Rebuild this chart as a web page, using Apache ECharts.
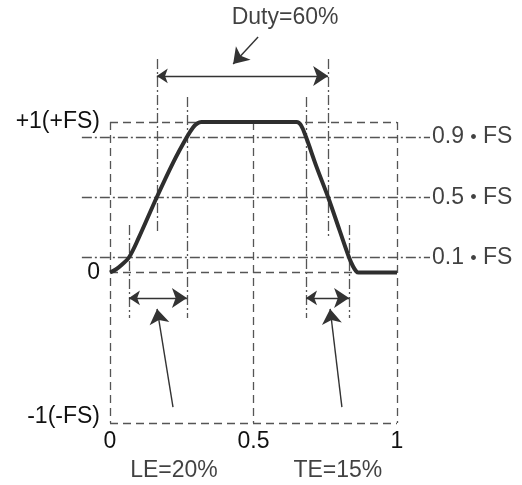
<!DOCTYPE html>
<html>
<head>
<meta charset="utf-8">
<script src="https://cdn.jsdelivr.net/npm/echarts@6/dist/echarts.min.js"></script>
<style>html,body{margin:0;padding:0;background:#fff}#c{width:522px;height:485px}</style>
</head>
<body>
<div id="c"></div>
<script>
// ---- data ----
var curveX = [0, 0.02, 0.04, 0.066, 0.1, 0.163, 0.22, 0.268, 0.29, 0.305, 0.318, 0.65, 0.665, 0.683, 0.72, 0.76, 0.8, 0.833, 0.847, 0.858, 0.866, 1];
var curveY = [0, 0.02, 0.05, 0.1, 0.23, 0.5, 0.73, 0.9, 0.965, 0.992, 1, 1, 0.98, 0.9, 0.7, 0.5, 0.28, 0.1, 0.04, 0.008, 0, 0];
var xTicks = [0, 0.5, 1];
var xTickLabels = ['0', '0.5', '1'];
var yTicks = [-1, 0, 1];
var yTickLabels = ['-1(-FS)', '0', '+1(+FS)'];
var levels = [0.9, 0.5, 0.1];
var levelNums = ['0.9', '0.5', '0.1'];
var levelUnit = 'FS';
var levelSpan = [-0.098, 1.115];
// vertical guide lines: x, yTop, yBottom
var guideX = [0.066, 0.268, 0.163, 0.76, 0.683, 0.833];
var guideTop = [0.316, 1.166, 1.419, 1.419, 1.166, 0.316];
var guideBottom = [-0.302, -0.302, 0.262, 0.236, -0.302, -0.302];
// double arrows: x1, x2, y
var spanNames = ['Duty', 'LE', 'TE'];
var spanX1 = [0.163, 0.066, 0.683];
var spanX2 = [0.76, 0.268, 0.833];
var spanY = [1.306, -0.169, -0.169];
// pointer arrows: from (label) -> to
var ptrFrom = [[0.516, 1.565], [0.2195, -0.894], [0.808, -0.894]];
var ptrTo = [[0.429, 1.385], [0.164, -0.242], [0.767, -0.242]];
var annoText = ['Duty=60%', 'LE=20%', 'TE=15%'];
var annoPos = [[0.61, 1.69], [0.223, -1.316], [0.794, -1.316]];

var FONT = 'Liberation Sans, Arial, sans-serif';
var CJK = 'Noto Sans CJK JP, sans-serif';
var GRAY = '#555';
var TXT = '#111';
var DASHDOT = [10, 3, 2, 3];

var series = [];
// curve
series.push({
  type: 'line', data: curveX.map(function(x, i){ return [x, curveY[i]]; }),
  smooth: 0.35, showSymbol: false, symbol: 'none', clip: false, z: 10,
  lineStyle: {color: '#2e2e2e', width: 4}
});
// guide lines (level + vertical), dash-dot
var guideData = [];
levels.forEach(function(v){
  guideData.push({coords: [[levelSpan[0], v], [levelSpan[1], v]]});
});
guideX.forEach(function(x, i){
  guideData.push({coords: [[x, guideTop[i]], [x, guideBottom[i]]]});
});
series.push({
  type: 'lines', coordinateSystem: 'cartesian2d', clip: false, z: 5, silent: true,
  symbol: 'none',
  lineStyle: {color: GRAY, width: 1.3, opacity: 1, type: DASHDOT, curveness: 0},
  data: guideData
});
// level labels
series.push({
  type: 'scatter', symbolSize: 0, clip: false, silent: true,
  data: levels.map(function(v, i){ return {value: [levelSpan[1], v], name: levelNums[i]}; }),
  label: {
    show: true, position: 'right', distance: 2,
    formatter: function(p){ return '{a|' + p.name + '}{d|・}{a|' + levelUnit + '}'; },
    rich: {
      a: {fontFamily: FONT, fontSize: 23, color: TXT},
      d: {fontFamily: CJK, fontSize: 19, color: TXT, fontWeight: 'bold'}
    }
  }
});
// arrows
var arrowData = [];
spanNames.forEach(function(n, i){
  arrowData.push({coords: [[spanX1[i], spanY[i]], [spanX2[i], spanY[i]]], symbol: ['arrow', 'arrow']});
});
ptrFrom.forEach(function(p, i){
  arrowData.push({coords: [p, ptrTo[i]], symbol: ['none', 'arrow']});
});
series.push({
  type: 'lines', coordinateSystem: 'cartesian2d', clip: false, z: 12,
  symbol: ['arrow', 'arrow'], symbolSize: [11, 15],
  lineStyle: {color: '#333', width: 1.4, opacity: 1, curveness: 0},
  data: arrowData
});
// annotation texts
series.push({
  type: 'scatter', symbolSize: 0, clip: false, silent: true,
  data: annoText.map(function(t, i){ return {value: annoPos[i], name: t}; }),
  label: {show: true, position: 'inside', formatter: '{b}', fontFamily: FONT, fontSize: 23, color: TXT}
});

var chart = echarts.init(document.getElementById('c'));
chart.setOption({
  animation: false,
  backgroundColor: '#fff',
  grid: {left: 110, right: 125, top: 122, bottom: 62, containLabel: false},
  xAxis: {
    type: 'value', min: 0, max: 1, interval: 0.5,
    axisLine: {show: false}, axisTick: {show: false},
    splitLine: {show: true, lineStyle: {color: GRAY, width: 1.3, type: [8, 5]}},
    axisLabel: {
      margin: 7, fontFamily: FONT, fontSize: 23, color: TXT,
      formatter: function(v){ var k = xTicks.indexOf(v); return k >= 0 ? xTickLabels[k] : ''; }
    }
  },
  yAxis: {
    type: 'value', min: -1, max: 1, interval: 1,
    axisLine: {show: false}, axisTick: {show: false},
    splitLine: {show: true, lineStyle: {color: GRAY, width: 1.3, type: [8, 5]}},
    axisLabel: {
      margin: 10, fontFamily: FONT, fontSize: 23, color: TXT,
      formatter: function(v){
        var k = yTicks.indexOf(v); if (k < 0) return '';
        return v === -1 ? '{lo|' + yTickLabels[k] + '}' : yTickLabels[k];
      },
      rich: {lo: {fontFamily: FONT, fontSize: 23, color: TXT, padding: [0, 0, 12, 0]}}
    }
  },
  series: series
});
</script>
</body>
</html>
